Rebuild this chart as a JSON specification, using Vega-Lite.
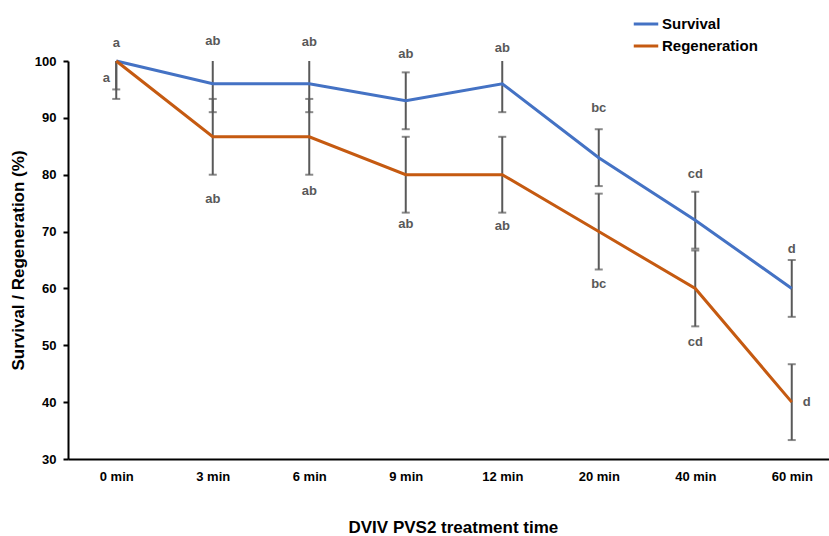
{
  "$schema": "https://vega.github.io/schema/vega-lite/v6.json",
  "width": 761,
  "height": 398,
  "autosize": {"type": "none"},
  "padding": {"left": 68, "top": 61, "right": 0, "bottom": 77},
  "background": "white",
  "config": {
    "view": {"stroke": null},
    "font": "Liberation Sans"
  },
  "data": {
    "values": [
      {"time": "0 min", "series": "Survival", "value": 100, "lo": 95, "hi": 105, "sig": "a", "sigY": 103.2},
      {"time": "3 min", "series": "Survival", "value": 96, "lo": 91, "hi": 101, "sig": "ab", "sigY": 103.5},
      {"time": "6 min", "series": "Survival", "value": 96, "lo": 91, "hi": 101, "sig": "ab", "sigY": 103.3},
      {"time": "9 min", "series": "Survival", "value": 93, "lo": 88, "hi": 98, "sig": "ab", "sigY": 101.2},
      {"time": "12 min", "series": "Survival", "value": 96, "lo": 91, "hi": 101, "sig": "ab", "sigY": 102.3},
      {"time": "20 min", "series": "Survival", "value": 83, "lo": 78, "hi": 88, "sig": "bc", "sigY": 91.7},
      {"time": "40 min", "series": "Survival", "value": 72, "lo": 67, "hi": 77, "sig": "cd", "sigY": 80.1},
      {"time": "60 min", "series": "Survival", "value": 60, "lo": 55, "hi": 65, "sig": "d", "sigY": 66.9},
      {"time": "0 min", "series": "Regeneration", "value": 100, "lo": 93.33, "hi": 106.67, "sig": "a", "sigY": 97.0},
      {"time": "3 min", "series": "Regeneration", "value": 86.67, "lo": 80, "hi": 93.33, "sig": "ab", "sigY": 75.7},
      {"time": "6 min", "series": "Regeneration", "value": 86.67, "lo": 80, "hi": 93.33, "sig": "ab", "sigY": 77.1},
      {"time": "9 min", "series": "Regeneration", "value": 80, "lo": 73.33, "hi": 86.67, "sig": "ab", "sigY": 71.3},
      {"time": "12 min", "series": "Regeneration", "value": 80, "lo": 73.33, "hi": 86.67, "sig": "ab", "sigY": 70.9},
      {"time": "20 min", "series": "Regeneration", "value": 70, "lo": 63.33, "hi": 76.67, "sig": "bc", "sigY": 60.8},
      {"time": "40 min", "series": "Regeneration", "value": 60, "lo": 53.33, "hi": 66.67, "sig": "cd", "sigY": 50.5},
      {"time": "60 min", "series": "Regeneration", "value": 40, "lo": 33.33, "hi": 46.67, "sig": "d", "sigY": 40.0}
    ]
  },
  "encoding": {
    "x": {
      "field": "time",
      "type": "ordinal",
      "sort": ["0 min", "3 min", "6 min", "9 min", "12 min", "20 min", "40 min", "60 min"],
      "scale": {"type": "point", "padding": 0.5, "range": [0, 772]},
      "axis": {
        "title": "DVIV PVS2 treatment time",
        "titleFontSize": 17,
        "titleFontWeight": "bold",
        "titleColor": "black",
        "titlePadding": 36,
        "titleAnchor": "start",
        "titleX": 280,
        "labelAngle": 0,
        "labelFontSize": 13,
        "labelFontWeight": "bold",
        "labelColor": "black",
        "labelPadding": 11,
        "ticks": false,
        "domainColor": "black",
        "domainWidth": 2,
        "grid": false
      }
    }
  },
  "layer": [
    {
      "mark": {"type": "rule", "color": "#595959", "strokeWidth": 2, "clip": true},
      "encoding": {
        "y": {"field": "lo", "type": "quantitative", "scale": {"domain": [30, 100], "nice": false, "zero": false}},
        "y2": {"field": "hi"}
      }
    },
    {
      "mark": {"type": "tick", "color": "#595959", "thickness": 2, "size": 8, "clip": true},
      "encoding": {"y": {"field": "lo", "type": "quantitative", "scale": {"domain": [30, 100], "nice": false, "zero": false}}}
    },
    {
      "mark": {"type": "tick", "color": "#595959", "thickness": 2, "size": 8, "clip": true},
      "encoding": {"y": {"field": "hi", "type": "quantitative", "scale": {"domain": [30, 100], "nice": false, "zero": false}}}
    },
    {
      "mark": {"type": "line", "strokeWidth": 3},
      "encoding": {
        "y": {
          "field": "value",
          "type": "quantitative",
          "scale": {"domain": [30, 100], "nice": false, "zero": false},
          "axis": {
            "title": "Survival / Regeneration (%)",
            "titleFontSize": 17,
            "titleFontWeight": "bold",
            "titleColor": "black",
            "titlePadding": 7,
            "values": [30, 40, 50, 60, 70, 80, 90, 100],
            "labelFontSize": 13,
            "labelFontWeight": "bold",
            "labelColor": "black",
            "labelPadding": 7,
            "tickColor": "black",
            "tickWidth": 2,
            "tickSize": 5,
            "domainColor": "black",
            "domainWidth": 2,
            "grid": false
          }
        },
        "color": {
          "field": "series",
          "type": "nominal",
          "sort": ["Survival", "Regeneration"],
          "scale": {"domain": ["Survival", "Regeneration"], "range": ["#4472C4", "#C55A11"]},
          "legend": {
            "title": null,
            "orient": "none",
            "legendX": 564,
            "legendY": -51,
            "symbolType": "stroke",
            "symbolStrokeWidth": 3,
            "symbolSize": 600,
            "labelFontSize": 15,
            "labelFontWeight": "bold",
            "labelColor": "black",
            "labelOffset": 2,
            "rowPadding": -5
          }
        }
      }
    },
    {
      "transform": [{"filter": "!(datum.time == '0 min' && datum.series == 'Regeneration') && !(datum.time == '60 min' && datum.series == 'Regeneration')"}],
      "mark": {"type": "text", "fontSize": 13, "fontWeight": "bold", "color": "#595959", "baseline": "middle"},
      "encoding": {
        "y": {"field": "sigY", "type": "quantitative", "scale": {"domain": [30, 100], "nice": false, "zero": false}},
        "text": {"field": "sig"}
      }
    },
    {
      "transform": [{"filter": "datum.time == '0 min' && datum.series == 'Regeneration'"}],
      "mark": {"type": "text", "fontSize": 13, "fontWeight": "bold", "color": "#595959", "baseline": "middle", "dx": -10},
      "encoding": {
        "y": {"field": "sigY", "type": "quantitative", "scale": {"domain": [30, 100], "nice": false, "zero": false}},
        "text": {"field": "sig"}
      }
    },
    {
      "transform": [{"filter": "datum.time == '60 min' && datum.series == 'Regeneration'"}],
      "mark": {"type": "text", "fontSize": 13, "fontWeight": "bold", "color": "#595959", "baseline": "middle", "dx": 15},
      "encoding": {
        "y": {"field": "sigY", "type": "quantitative", "scale": {"domain": [30, 100], "nice": false, "zero": false}},
        "text": {"field": "sig"}
      }
    }
  ]
}
